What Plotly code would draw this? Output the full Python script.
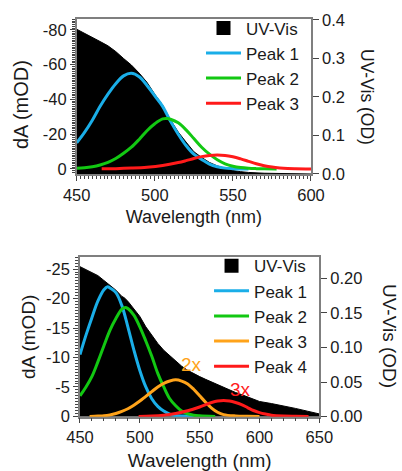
import plotly.graph_objects as go

# ---------------- Top panel data ----------------
top_uv_wl = [450, 455, 460, 465, 470, 475, 480, 485, 490, 495, 500, 505, 510, 515, 520,
             525, 530, 535, 540, 545, 550, 555, 560, 570, 580, 590, 600]
top_uv_od = [0.376, 0.366, 0.355, 0.344, 0.333, 0.318, 0.300, 0.283, 0.262, 0.238, 0.207,
             0.179, 0.141, 0.109, 0.083, 0.058, 0.043, 0.030, 0.021, 0.014, 0.009, 0.006,
             0.004, 0.002, 0.001, 0.0005, 0.0]

top_p1_wl = [450, 455, 460, 465, 470, 475, 480, 485, 490, 495, 500, 505, 510, 515, 520,
             525, 530, 535, 540, 545, 550, 555, 560]
top_p1 = [-15, -21, -28, -36, -43, -49, -53.5, -55, -53, -48, -42, -36, -27.5, -20, -13.5,
          -8.5, -5.5, -2.8, -1.3, -0.5, -0.2, -0.05, 0]

top_p2_wl = [450, 455, 460, 465, 470, 475, 480, 485, 490, 495, 500, 505, 508, 510, 515,
             520, 525, 530, 535, 540, 545, 550, 555, 560, 565, 570, 578]
top_p2 = [-0.4, -0.7, -1.3, -2.3, -3.8, -6, -9, -12.5, -17, -22, -26, -28.8, -29, -28.6,
          -26.5, -22.5, -17.5, -12.5, -8.5, -5.3, -3, -1.6, -0.8, -0.4, -0.2, -0.1, 0]

top_p3_wl = [466, 475, 485, 495, 505, 515, 520, 525, 530, 535, 540, 545, 550, 555, 560,
             565, 570, 575, 580, 585, 590, 600]
top_p3 = [-0.1, -0.2, -0.5, -1.0, -2.0, -3.7, -4.8, -6, -7.1, -7.8, -8, -7.8, -7, -5.8,
          -4.4, -3.0, -1.9, -1.1, -0.6, -0.3, -0.15, 0]

# ---------------- Bottom panel data ----------------
bot_uv_wl = [450, 455, 460, 465, 470, 475, 480, 485, 487, 490, 495, 500, 505, 510, 515,
             520, 525, 530, 535, 540, 545, 550, 555, 560, 565, 570, 575, 580, 585, 590,
             595, 600, 610, 620, 630, 640, 650]
bot_uv_od = [0.217, 0.213, 0.208, 0.204, 0.197, 0.190, 0.183, 0.174, 0.172, 0.167, 0.156,
             0.145, 0.130, 0.118, 0.106, 0.096, 0.088, 0.080, 0.073, 0.067, 0.062, 0.058,
             0.054, 0.050, 0.046, 0.042, 0.038, 0.035, 0.032, 0.029, 0.025, 0.022, 0.019,
             0.016, 0.012, 0.008, 0.004]

bot_p1_wl = [450, 455, 460, 465, 470, 473, 475, 480, 485, 490, 495, 500, 505, 510, 515,
             520, 525, 530, 540, 545]
bot_p1 = [-10.5, -13.8, -16.8, -19.6, -21.5, -22.0, -21.8, -21.0, -18.8, -15.2, -11.3,
          -7.8, -5.0, -3.0, -1.7, -0.9, -0.4, -0.15, -0.05, 0]

bot_p2_wl = [450, 455, 460, 465, 470, 475, 480, 485, 488, 490, 495, 500, 505, 510, 515,
             520, 525, 530, 535, 540, 545, 550, 563]
bot_p2 = [-3.5, -5.0, -6.8, -9.3, -12.0, -14.6, -16.6, -18.2, -18.5, -18.3, -17.2, -15.2,
          -12.8, -10.2, -7.3, -5.0, -3.0, -1.8, -0.9, -0.45, -0.2, -0.1, 0]

bot_p3_wl = [458, 465, 470, 475, 480, 485, 490, 495, 500, 505, 510, 515, 520, 525, 530,
             535, 540, 545, 550, 555, 560, 565, 570, 580, 590, 600]
bot_p3 = [0, -0.05, -0.1, -0.25, -0.5, -0.85, -1.3, -1.9, -2.6, -3.4, -4.2, -5.0, -5.6,
          -6.0, -6.2, -6.0, -5.5, -4.6, -3.5, -2.4, -1.4, -0.7, -0.3, -0.08, -0.02, 0]

bot_p4_wl = [499, 510, 520, 530, 540, 550, 555, 560, 565, 570, 575, 580, 585, 590, 595,
             600, 605, 610, 620, 630, 641]
bot_p4 = [0, -0.05, -0.2, -0.5, -0.95, -1.6, -2.0, -2.35, -2.6, -2.7, -2.6, -2.35, -2.0,
          -1.5, -1.0, -0.65, -0.4, -0.2, -0.06, -0.02, 0]

top_x_ticks = [450, 500, 550, 600]
top_left_ticks = [-80, -60, -40, -20, 0]
top_left_labels = ["-80", "-60", "-40", "-20", "0"]
top_right_ticks = [0.0, 0.1, 0.2, 0.3, 0.4]
bot_x_ticks = [450, 500, 550, 600, 650]
bot_left_ticks = [-25, -20, -15, -10, -5, 0]
bot_left_labels = ["-25", "-20", "-15", "-10", "-5", "0"]
bot_right_ticks = [0.00, 0.05, 0.10, 0.15, 0.20]

BLUE = "#1aaee8"
GREEN = "#12c812"
RED = "#ff1a1a"
ORANGE = "#ffa31a"
FONT = "Liberation Sans, Arial, sans-serif"
AXC = "#7f7f7f"
TKC = "#444444"
TXT = "#1a1a1a"
TICKF = dict(family=FONT, size=16.5, color=TXT)
LEGF = dict(family=FONT, size=17, color=TXT)

fig = go.Figure()

# Top panel
fig.add_trace(go.Scatter(x=top_uv_wl, y=top_uv_od, name="UV-Vis", mode="lines",
                         fill="tozeroy", fillcolor="black", line=dict(color="black", width=1),
                         xaxis="x", yaxis="y", showlegend=False))
fig.add_trace(go.Scatter(x=[None], y=[None], name="UV-Vis", mode="markers",
                         marker=dict(symbol="square", size=14, color="black"),
                         xaxis="x", yaxis="y", legend="legend"))
for wl, v, nm, c in [(top_p1_wl, top_p1, "Peak 1", BLUE), (top_p2_wl, top_p2, "Peak 2", GREEN),
                     (top_p3_wl, top_p3, "Peak 3", RED)]:
    fig.add_trace(go.Scatter(x=wl, y=v, name=nm, mode="lines", line=dict(color=c, width=3, shape="spline"),
                             xaxis="x", yaxis="y2", legend="legend"))

# Bottom panel
fig.add_trace(go.Scatter(x=bot_uv_wl, y=bot_uv_od, name="UV-Vis", mode="lines",
                         fill="tozeroy", fillcolor="black", line=dict(color="black", width=1),
                         xaxis="x2", yaxis="y3", showlegend=False))
fig.add_trace(go.Scatter(x=[None], y=[None], name="UV-Vis", mode="markers",
                         marker=dict(symbol="square", size=14, color="black"),
                         xaxis="x2", yaxis="y3", legend="legend2"))
for wl, v, nm, c in [(bot_p1_wl, bot_p1, "Peak 1", BLUE), (bot_p2_wl, bot_p2, "Peak 2", GREEN),
                     (bot_p3_wl, bot_p3, "Peak 3", ORANGE), (bot_p4_wl, bot_p4, "Peak 4", RED)]:
    fig.add_trace(go.Scatter(x=wl, y=v, name=nm, mode="lines", line=dict(color=c, width=3, shape="spline"),
                             xaxis="x2", yaxis="y4", legend="legend2"))


def xax(domain, rng, ticks, minor, anchor, tsize, standoff):
    return dict(domain=domain, range=rng, tickvals=ticks, anchor=anchor, automargin=False,
                showline=True, linecolor=AXC, linewidth=1.5, mirror=True,
                ticks="outside", ticklen=5, tickwidth=1.2, tickcolor=TKC,
                minor=dict(dtick=minor, ticks="outside", ticklen=3, tickcolor=TKC, tickwidth=1),
                showgrid=False, zeroline=False, tickfont=TICKF,
                title=dict(text="Wavelength (nm)", font=dict(family=FONT, size=tsize, color=TXT),
                           standoff=standoff))


def leftax(domain, rng, ticks, labels, minor, anchor, overlay):
    return dict(domain=domain, range=rng, tickvals=ticks, ticktext=labels, anchor=anchor,
                overlaying=overlay,
                side="left", showline=True, linecolor=AXC, linewidth=1.5, automargin=False,
                ticks="outside", ticklen=5, tickwidth=1.2, tickcolor=TKC,
                minor=dict(dtick=minor, ticks="outside", ticklen=3, tickcolor=TKC, tickwidth=1),
                showgrid=False, zeroline=False, tickfont=TICKF)


def rightax(domain, rng, ticks, fmt, anchor):
    return dict(domain=domain, range=rng, tickvals=ticks, tickformat=fmt, anchor=anchor,
                side="right", showline=True, linecolor=AXC, linewidth=1.5, automargin=False,
                ticks="outside", ticklen=6, tickwidth=1.2, tickcolor=TKC,
                showgrid=False, zeroline=False, tickfont=TICKF)


def vtitle(text, xpx, ypx, angle, size):
    return dict(text=text, textangle=angle, x=xpx / 402, y=(471 - ypx) / 471, xref="paper",
                yref="paper", showarrow=False, font=dict(family=FONT, size=size, color=TXT),
                xanchor="center", yanchor="middle")


top_dom_x = [0.1908, 0.7736]
top_dom_y = [0.6306, 0.9597]
bot_dom_x = [0.199, 0.7943]
bot_dom_y = [0.1153, 0.4537]

fig.update_layout(
    width=402, height=471, margin=dict(l=0, r=0, t=0, b=0, autoexpand=False),
    paper_bgcolor="white", plot_bgcolor="white",
    xaxis=xax(top_dom_x, [450, 600], top_x_ticks, 2.5, "y", 18, 8),
    yaxis=rightax(top_dom_y, [0, 0.4026], top_right_ticks, ".1f", "x"),
    yaxis2=leftax(top_dom_y, [2.87, -86.2], top_left_ticks, top_left_labels, 1, "x", "y"),
    xaxis2=xax(bot_dom_x, [450, 650], bot_x_ticks, 10, "y3", 19, 8),
    yaxis3=rightax(bot_dom_y, [0, 0.2305], bot_right_ticks, ".2f", "x2"),
    yaxis4=leftax(bot_dom_y, [0.05, -27.0], bot_left_ticks, bot_left_labels, 0.5, "x2", "y3"),
    legend=dict(x=0.50, y=0.978, xanchor="left", yanchor="top", bgcolor="rgba(0,0,0,0)",
                font=LEGF, tracegroupgap=0, itemwidth=35),
    legend2=dict(x=0.52, y=0.473, xanchor="left", yanchor="top", bgcolor="rgba(0,0,0,0)",
                 font=LEGF, tracegroupgap=0, itemwidth=35),
    annotations=[
        vtitle("dA (mOD)", 21, 105, -90, 20),
        vtitle("dA (mOD)", 28, 337, -90, 19),
        vtitle("UV-Vis (OD)", 367, 97, 90, 17.5),
        vtitle("UV-Vis (OD)", 390, 336, 90, 19),
        dict(text="2x", x=543, y=-8.8, xref="x2", yref="y4", showarrow=False,
             font=dict(family=FONT, size=19, color=ORANGE)),
        dict(text="3x", x=584, y=-4.5, xref="x2", yref="y4", showarrow=False,
             font=dict(family=FONT, size=19, color=RED)),
    ],
)

fig.write_html("out.html")
